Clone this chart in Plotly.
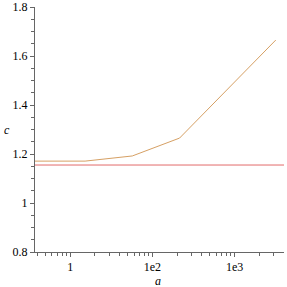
import plotly.graph_objects as go
import numpy as np

# data
a_curve = [3.74, 15.2, 57, 214, 3160]
c_curve = [1.171, 1.171, 1.192, 1.265, 1.665]
a_flat = [3.74, 3980]
c_flat = [1.155, 1.155]

x_major = [10, 100, 1000]
x_major_text = ["1", "1e2", "1e3"]
x_minor = [4, 5, 6, 7, 8, 9, 20, 30, 40, 50, 60, 70, 80, 90,
           200, 300, 400, 500, 600, 700, 800, 900, 2000, 3000]
y_major = [0.8, 1.0, 1.2, 1.4, 1.6, 1.8]
y_major_text = ["0.8", "1", "1.2", "1.4", "1.6", "1.8"]

fig = go.Figure()
fig.add_trace(go.Scatter(x=a_flat, y=c_flat, mode="lines",
                         line=dict(color="#e26a6a", width=1), showlegend=False))
fig.add_trace(go.Scatter(x=a_curve, y=c_curve, mode="lines",
                         line=dict(color="#d6a064", width=1), showlegend=False))

font = dict(family="'Times New Roman', 'Liberation Serif', serif", size=12, color="#000")
L, R, T, B = 35, 3, 7, 35
pw, ph = 287 - L - R, 287 - T - B
fig.update_layout(
    width=287, height=287,
    margin=dict(l=L, r=R, t=T, b=B),
    paper_bgcolor="white", plot_bgcolor="white",
    font=font,
    hovermode=False,
    xaxis=dict(type="log", range=[np.log10(3.74), np.log10(3980)],
               tickvals=x_major, ticktext=x_major_text, automargin=False,
               ticks="outside", ticklen=4, tickcolor="#666", showgrid=False,
               showline=True, linecolor="#666", linewidth=1, zeroline=False,
               minor=dict(tickvals=x_minor, ticks="outside", ticklen=3, tickcolor="#666", showgrid=False)),
    yaxis=dict(range=[0.8, 1.8], tickvals=y_major, ticktext=y_major_text, automargin=False,
               ticks="outside", ticklen=4, tickcolor="#666", showgrid=False,
               showline=True, linecolor="#666", linewidth=1, zeroline=False,
               minor=dict(dtick=0.05, ticks="outside", ticklen=3, tickcolor="#666", showgrid=False)),
)
fig.add_annotation(text="<i>c</i>", xref="paper", yref="paper",
                   x=-(L - 7) / pw, y=(287 - B - 130) / ph,
                   xanchor="center", yanchor="middle", showarrow=False, font=font)
fig.add_annotation(text="<i>a</i>", xref="paper", yref="paper",
                   x=(158 - L) / pw, y=-(281 - (287 - B)) / ph,
                   xanchor="center", yanchor="middle", showarrow=False, font=font)
fig.write_html("out.html", config={"displayModeBar": False},
               post_script="document.body.style.margin='0';document.body.style.overflow='hidden';")
